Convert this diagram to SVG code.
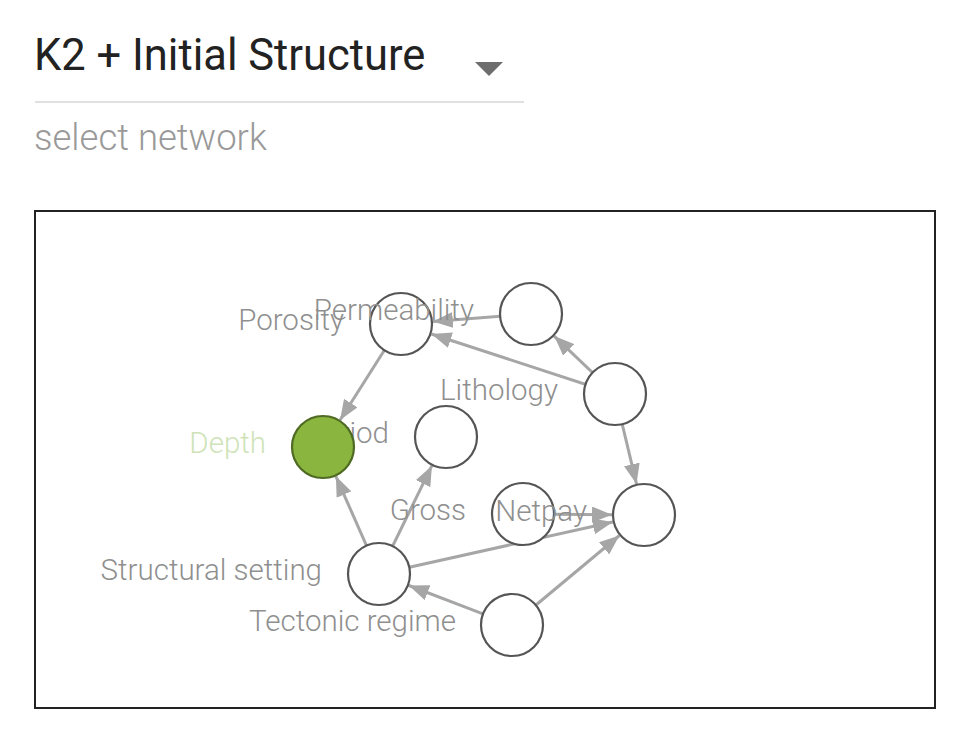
<svg xmlns="http://www.w3.org/2000/svg" width="978" height="752" viewBox="0 0 978 752">
<defs>
<marker id="arr" markerUnits="userSpaceOnUse" markerWidth="20" markerHeight="16" refX="20" refY="8" orient="auto">
<path d="M0,0 L20,8 L0,16 Z" fill="#a6a6a6"/>
</marker>
<style>
.hdr{font-family:Roboto,"Liberation Sans",sans-serif}
.edge{stroke:#a6a6a6;stroke-width:3;fill:none;marker-end:url(#arr)}
.node circle{fill:#fff;stroke:#555;stroke-width:2.2}
.node text{font-family:Roboto,"Liberation Sans",sans-serif;font-size:29.5px;font-weight:300;fill:#8f8f8f;text-anchor:end}
</style>
</defs>
<rect x="0" y="0" width="978" height="752" fill="#fff"/>
<g id="header">
<text class="hdr" x="34" y="70" font-size="43.5" fill="#222">K2 + Initial Structure</text>
<path d="M475,62 L503,62 L489,76 Z" fill="#6e6e6e"/>
<line x1="35" y1="102" x2="524" y2="102" stroke="#e0e0e0" stroke-width="2"/>
<text class="hdr" x="34" y="150" font-size="36.5" font-weight="300" fill="#999">select network</text>
</g>
<rect id="frame" x="35" y="211" width="900" height="497" fill="#fff" stroke="#222" stroke-width="2"/>
<g id="edges">
<line class="edge" x1="531" y1="314" x2="432.9" y2="321.5"/>
<line class="edge" x1="615" y1="394" x2="431.4" y2="334"/>
<line class="edge" x1="615" y1="394" x2="554.2" y2="336.1"/>
<line class="edge" x1="615" y1="394" x2="636.5" y2="483.9"/>
<line class="edge" x1="401" y1="324" x2="340.1" y2="420"/>
<line class="edge" x1="379" y1="574" x2="335.9" y2="476.3"/>
<line class="edge" x1="379" y1="574" x2="431.9" y2="465.7"/>
<line class="edge" x1="379" y1="574" x2="612.8" y2="522"/>
<line class="edge" x1="523" y1="514" x2="612" y2="514.7"/>
<line class="edge" x1="512" y1="625" x2="408.9" y2="585.5"/>
<line class="edge" x1="512" y1="625" x2="619.4" y2="535.5"/>
</g>
<g id="node-period" class="node"><circle cx="446" cy="437" r="31"/><text x="389" y="443">Period</text></g>
<g id="node-depth" class="node"><circle cx="323" cy="447" r="31" style="fill:#8ab53f;stroke:#4f6a22"/><text x="266" y="453" style="fill:#cfe3b8">Depth</text></g>
<g id="node-porosity" class="node"><circle cx="401" cy="324" r="31"/><text x="344" y="330">Porosity</text></g>
<g id="node-permeability" class="node"><circle cx="531" cy="314" r="31"/><text x="474" y="320">Permeability</text></g>
<g id="node-lithology" class="node"><circle cx="615" cy="394" r="31"/><text x="558" y="400">Lithology</text></g>
<g id="node-gross" class="node"><circle cx="523" cy="514" r="31"/><text x="466" y="520">Gross</text></g>
<g id="node-netpay" class="node"><circle cx="644" cy="515" r="31"/><text x="587" y="521">Netpay</text></g>
<g id="node-structural" class="node"><circle cx="379" cy="574" r="31"/><text x="322" y="580">Structural setting</text></g>
<g id="node-tectonic" class="node"><circle cx="512" cy="625" r="31"/><text x="456" y="631">Tectonic regime</text></g>
</svg>
